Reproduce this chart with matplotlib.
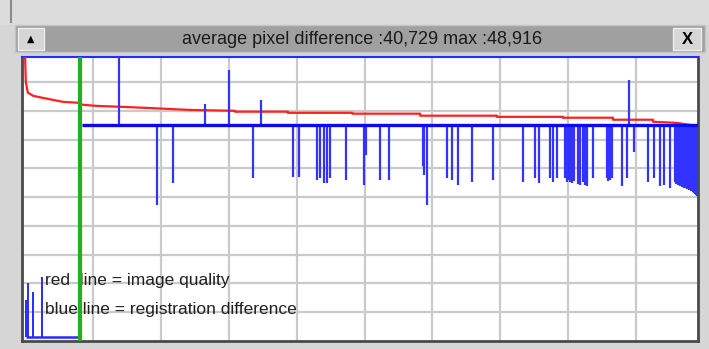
import numpy as np
import matplotlib
matplotlib.use('Agg')
import matplotlib.pyplot as plt
from matplotlib.patches import Rectangle

plt.rcParams['font.family'] = ['Liberation Sans', 'DejaVu Sans']

# ---- data ----
title = "average pixel difference :40,729 max :48,916"
legend_lines = ["red  line = image quality", "blue line = registration difference"]

grid_x = [100, 200, 300, 400, 500, 600, 700, 800, 900]
grid_y = [10, 20, 30, 40, 50, 60, 70, 80, 90]

# red line = image quality (sorted, falls in small steps)
red_x = [-1, 0, 1, 4, 12, 26, 41, 56, 78, 85, 106, 140, 180, 243, 309, 309, 387, 387,
         482, 482, 582, 582, 695, 695, 792, 792, 866, 866, 925, 925, 960, 980, 991]
red_y = [98.8, 98.8, 90.1, 86.3, 85.2, 84.5, 83.8, 83.1, 82.8, 82.1, 81.7, 81.4, 81.0,
         80.3, 80.0, 79.7, 79.7, 79.3, 79.3, 79.0, 79.0, 78.3, 78.3, 77.9, 77.9, 77.6,
         77.6, 76.9, 76.9, 76.2, 75.8, 75.1, 72.7]

# green marker (current frame)
marker_x = 81

# blue line = registration difference
blue_base = 75.0
blue_start = 84
blue_end = 991
blue_up_x = [138, 265, 300, 347, 890]
blue_up_y = [98.8, 82.4, 94.3, 83.8, 90.8]
blue_down_x = [194, 218, 336, 395, 404, 430, 434, 440, 445, 449, 473, 499, 502,
               523, 536, 586, 588, 592, 622, 629, 638, 658, 689, 734, 751, 757,
               773, 778, 784, 795, 798, 800, 803, 806, 808, 815, 818, 822, 825,
               828, 837, 857, 859, 862, 865, 879, 887, 897, 918, 927, 935, 941,
               950, 957, 959, 960, 962, 963, 965, 966, 968, 969, 971, 972, 974,
               975, 977, 978, 980, 981, 983, 984, 986, 987, 989, 990]
blue_down_y = [47.3, 55.0, 56.7, 57.0, 57.0, 56.0, 56.7, 55.0, 55.0, 56.7, 56.0,
               54.3, 64.7, 56.0, 56.0, 60.9, 57.7, 47.3, 56.7, 56.0, 54.3, 55.3,
               56.0, 55.3, 56.7, 55.0, 56.7, 55.3, 56.7, 56.7, 55.3, 56.0, 55.3,
               55.0, 55.7, 54.6, 54.3, 55.3, 54.3, 53.9, 56.7, 56.7, 55.7, 56.0,
               56.7, 53.9, 56.7, 65.7, 55.3, 56.7, 53.9, 54.3, 53.2, 55.3, 54.6,
               55.0, 54.3, 54.6, 54.0, 54.3, 53.6, 53.9, 53.2, 53.6, 53.2, 52.9,
               53.2, 52.5, 52.9, 52.2, 52.5, 51.8, 51.5, 51.1, 50.8, 50.5]
# blue before the marker (first frames)
blue_pre_level = 1.4
blue_pre_x = [1, 4, 12, 25]
blue_pre_y = [14.3, 20.2, 17.0, 22.3]

W, H = 709, 349


def fx(px):
    return px / W


def fy(py):
    return 1 - py / H


fig = plt.figure(figsize=(W / 100, H / 100), dpi=100, facecolor='#d6d6d6')

# window chrome
fig.patches.append(Rectangle((fx(0), fy(25)), 1, 25 / H, transform=fig.transFigure,
                             facecolor='#dcdcdc', edgecolor='none', zorder=0))
fig.lines.append(plt.Line2D([fx(11), fx(11)], [fy(0), fy(22)], transform=fig.transFigure,
                            color='#8c8c8c', lw=1.5))
fig.patches.append(Rectangle((fx(15), fy(52)), 690 / W, 27 / H, transform=fig.transFigure,
                             facecolor='#a0a0a0', edgecolor='#c4c4c4', lw=1, zorder=1))
for x0, x1 in [(18, 44), (673, 701)]:
    fig.patches.append(Rectangle((fx(x0), fy(50)), (x1 - x0) / W, 22 / H,
                                 transform=fig.transFigure, facecolor='#d6d6d6',
                                 edgecolor='#eeeeee', lw=1, zorder=2))
fig.text(fx(31), fy(39), "\u25B2", ha='center', va='center', fontsize=7, color='black',
         family='DejaVu Sans', zorder=3)
fig.text(fx(687), fy(39.5), "X", ha='center', va='center', fontsize=12, color='black',
         fontweight='bold', zorder=3)
fig.text(fx(362), fy(39.5), title, ha='center', va='center', fontsize=13, color='#1a1a1a',
         zorder=3)

# plot area
ax = fig.add_axes([fx(22), fy(341), 676 / W, 284 / H])
ax.set_facecolor('white')
ax.set_xlim(-4.6, 991.3)
ax.set_ylim(0, 98.7)
ax.set_xticks(grid_x)
ax.set_yticks(grid_y)
ax.tick_params(length=0, labelbottom=False, labelleft=False)
ax.grid(True, color='#cacaca', lw=1.6)
ax.set_axisbelow(True)
for side in ['left', 'bottom', 'right']:
    ax.spines[side].set_color('#4a4a4a')
    ax.spines[side].set_linewidth(2)
ax.spines['top'].set_color('#2a2aff')
ax.spines['top'].set_linewidth(1.5)

ax.plot(red_x, red_y, color='#ff2020', lw=1.6, zorder=3)

ax.vlines(blue_pre_x, blue_pre_level, blue_pre_y, color='#2a2aff', lw=1.4, zorder=3)
ax.hlines(blue_pre_level, blue_pre_x[0], marker_x - 2, color='#2a2aff', lw=1.8, zorder=3)
ax.vlines(blue_down_x, blue_base, blue_down_y, color='#3333ff', lw=1.6, zorder=3)
ax.vlines(blue_up_x, blue_base, blue_up_y, color='#3333ff', lw=1.6, zorder=3)
ax.hlines(blue_base, blue_start, blue_end, color='#0a0aee', lw=2.4, zorder=4)

ax.text(29, 21.0, legend_lines[0], fontsize=12.5, color='#202020', va='center', zorder=5)
ax.text(29, 11.0, legend_lines[1], fontsize=12.5, color='#202020', va='center', zorder=5)

ax.axvline(marker_x, color='#20b020', lw=3, zorder=6)

fig.savefig('out.png', dpi=100, facecolor=fig.get_facecolor())
